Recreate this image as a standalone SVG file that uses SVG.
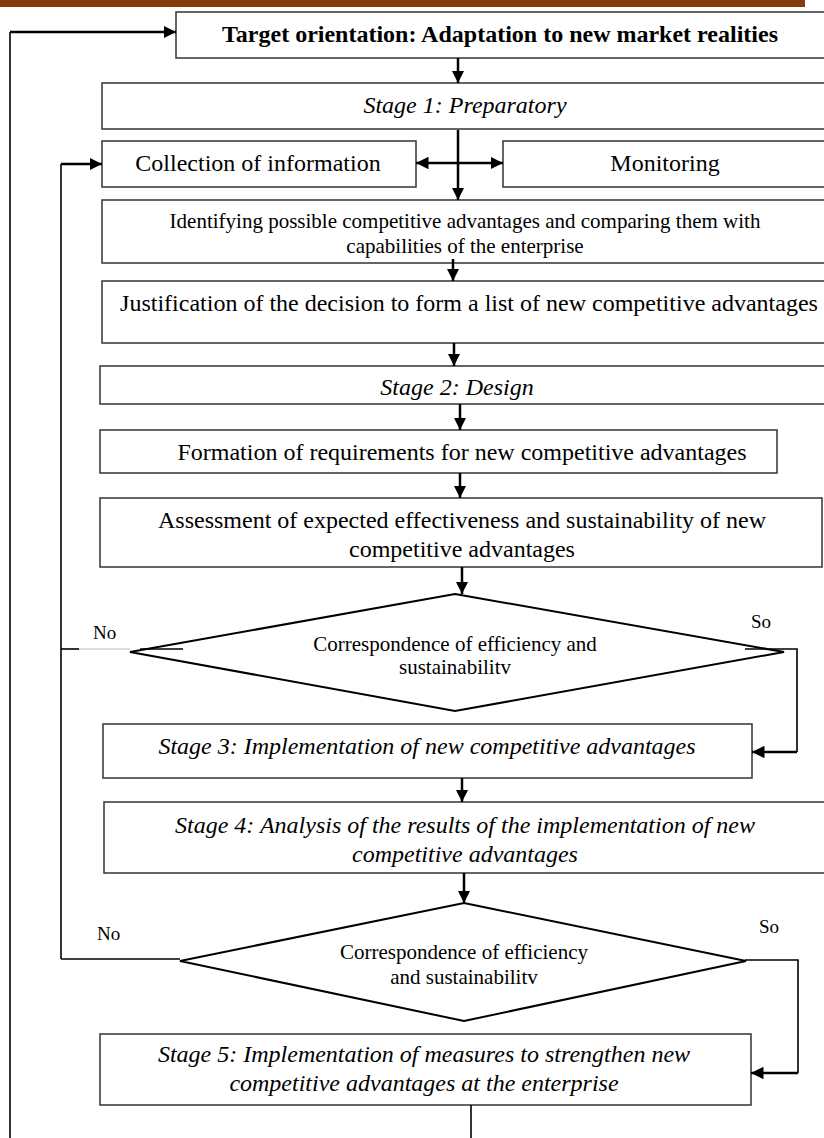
<svg xmlns="http://www.w3.org/2000/svg" width="824" height="1138" viewBox="0 0 824 1138">
  <defs>
    <marker id="ah" viewBox="0 0 10 10" refX="10" refY="5" markerWidth="5" markerHeight="5" markerUnits="strokeWidth" orient="auto">
      <path d="M0,0 L10,5 L0,10 Z" fill="#000"/>
    </marker>
    <style>
      .box { fill: #fff; stroke: #333; stroke-width: 1.5; }
      .dia { fill: #fff; stroke: #000; stroke-width: 2; }
      .t { font-family: "Liberation Serif", "Times New Roman", serif; fill: #000; text-anchor: middle; font-size: 24px; }
      .s { font-size: 21px; }
      .b { font-weight: bold; }
      .i { font-style: italic; }
      .lbl { font-family: "Liberation Serif", "Times New Roman", serif; fill: #000; font-size: 19px; }
      .ca { fill: none; stroke: #000; stroke-width: 2.5; marker-end: url(#ah); }
      .thin { fill: none; stroke: #000; stroke-width: 1.6; }
    </style>
  </defs>

  <rect width="824" height="1138" fill="#fff"/>
  <!-- header rule -->
  <rect x="0" y="0" width="805" height="7" fill="#843c0c"/>

  <g id="target">
    <rect class="box" x="176" y="12" width="660" height="46"/>
    <text class="t b" x="500" y="42">Target orientation: Adaptation to new market realities</text>
  </g>
  <g id="stage1">
    <rect class="box" x="102" y="83" width="740" height="46"/>
    <text class="t i" x="465" y="113">Stage 1: Preparatory</text>
  </g>
  <g id="collection">
    <rect class="box" x="102" y="141" width="314" height="46"/>
    <text class="t" x="258" y="171">Collection of information</text>
  </g>
  <g id="monitoring">
    <rect class="box" x="503" y="141" width="340" height="46"/>
    <text class="t" x="665" y="171">Monitoring</text>
  </g>
  <g id="identifying">
    <rect class="box" x="102" y="200" width="740" height="63"/>
    <text class="t s" x="465" y="228">Identifying possible competitive advantages and comparing them with</text>
    <text class="t s" x="465" y="253">capabilities of the enterprise</text>
  </g>
  <g id="justification">
    <rect class="box" x="102" y="281" width="740" height="62"/>
    <text class="t" x="469" y="311">Justification of the decision to form a list of new competitive advantages</text>
  </g>
  <g id="stage2">
    <rect class="box" x="100" y="366" width="740" height="38"/>
    <text class="t i" x="457" y="395">Stage 2: Design</text>
  </g>
  <g id="formation">
    <rect class="box" x="100" y="430" width="677" height="43"/>
    <text class="t" x="462" y="460">Formation of requirements for new competitive advantages</text>
  </g>
  <g id="assessment">
    <rect class="box" x="100" y="498" width="722" height="69"/>
    <text class="t" x="462" y="528">Assessment of expected effectiveness and sustainability of new</text>
    <text class="t" x="462" y="557">competitive advantages</text>
  </g>
  <g id="check1">
    <polygon class="dia" points="455,594 784,652 455,711 130,652"/>
    <text class="t s" x="455" y="651">Correspondence of efficiency and</text>
    <text class="t s" x="455" y="674">sustainabilitv</text>
  </g>
  <g id="stage3">
    <rect class="box" x="103" y="724" width="649" height="54"/>
    <text class="t i" x="427" y="754">Stage 3: Implementation of new competitive advantages</text>
  </g>
  <g id="stage4">
    <rect class="box" x="104" y="802" width="740" height="71"/>
    <text class="t i" x="465" y="833">Stage 4: Analysis of the results of the implementation of new</text>
    <text class="t i" x="465" y="862">competitive advantages</text>
  </g>
  <g id="check2">
    <polygon class="dia" points="464,903 746,961 464,1021 180,961"/>
    <text class="t s" x="464" y="959">Correspondence of efficiency</text>
    <text class="t s" x="464" y="984">and sustainabilitv</text>
  </g>
  <g id="stage5">
    <rect class="box" x="100" y="1034" width="651" height="71"/>
    <text class="t i" x="424" y="1062">Stage 5: Implementation of measures to strengthen new</text>
    <text class="t i" x="424" y="1091">competitive advantages at the enterprise</text>
  </g>

  <g id="labels">
    <text class="lbl" x="93" y="639">No</text>
    <text class="lbl" x="751" y="628">So</text>
    <text class="lbl" x="97" y="940">No</text>
    <text class="lbl" x="759" y="933">So</text>
  </g>

  <g id="connectors">
    <!-- outer feedback loop to the target -->
    <polyline class="thin" points="10,1138 10,32"/>
    <line class="ca" x1="10" y1="32" x2="176" y2="32"/>
    <!-- inner feedback loop to information collection -->
    <polyline class="thin" points="61,959 61,164"/>
    <line class="ca" x1="61" y1="164" x2="102" y2="164"/>

    <line class="ca" x1="458" y1="58" x2="458" y2="83"/>
    <line class="ca" x1="458" y1="130" x2="458" y2="200"/>
    <line class="ca" x1="458" y1="163" x2="416" y2="163"/>
    <line class="ca" x1="458" y1="163" x2="503" y2="163"/>
    <line class="ca" x1="453" y1="259" x2="453" y2="281"/>
    <line class="ca" x1="454" y1="343" x2="454" y2="366"/>
    <line class="ca" x1="460" y1="404" x2="460" y2="430"/>
    <line class="ca" x1="460" y1="473" x2="460" y2="498"/>
    <line class="ca" x1="462" y1="567" x2="462" y2="594"/>

    <!-- check 1 branches -->
    <line class="thin" x1="61" y1="649" x2="79" y2="649"/>
    <line x1="79" y1="649" x2="130" y2="649" stroke="#bbb" stroke-width="1"/>
    <line class="thin" x1="140" y1="649" x2="183" y2="649"/>
    <polyline class="thin" points="745,649 797,649 797,752"/>
    <line class="ca" x1="797" y1="752" x2="752" y2="752"/>

    <line class="ca" x1="462" y1="778" x2="462" y2="802"/>
    <line class="ca" x1="464" y1="873" x2="464" y2="903"/>

    <!-- check 2 branches -->
    <line class="thin" x1="61" y1="959" x2="180" y2="959"/>
    <polyline class="thin" points="745,960 798,960 798,1073"/>
    <line class="ca" x1="798" y1="1073" x2="751" y2="1073"/>

    <line class="thin" x1="471" y1="1105" x2="471" y2="1138"/>
  </g>
</svg>
